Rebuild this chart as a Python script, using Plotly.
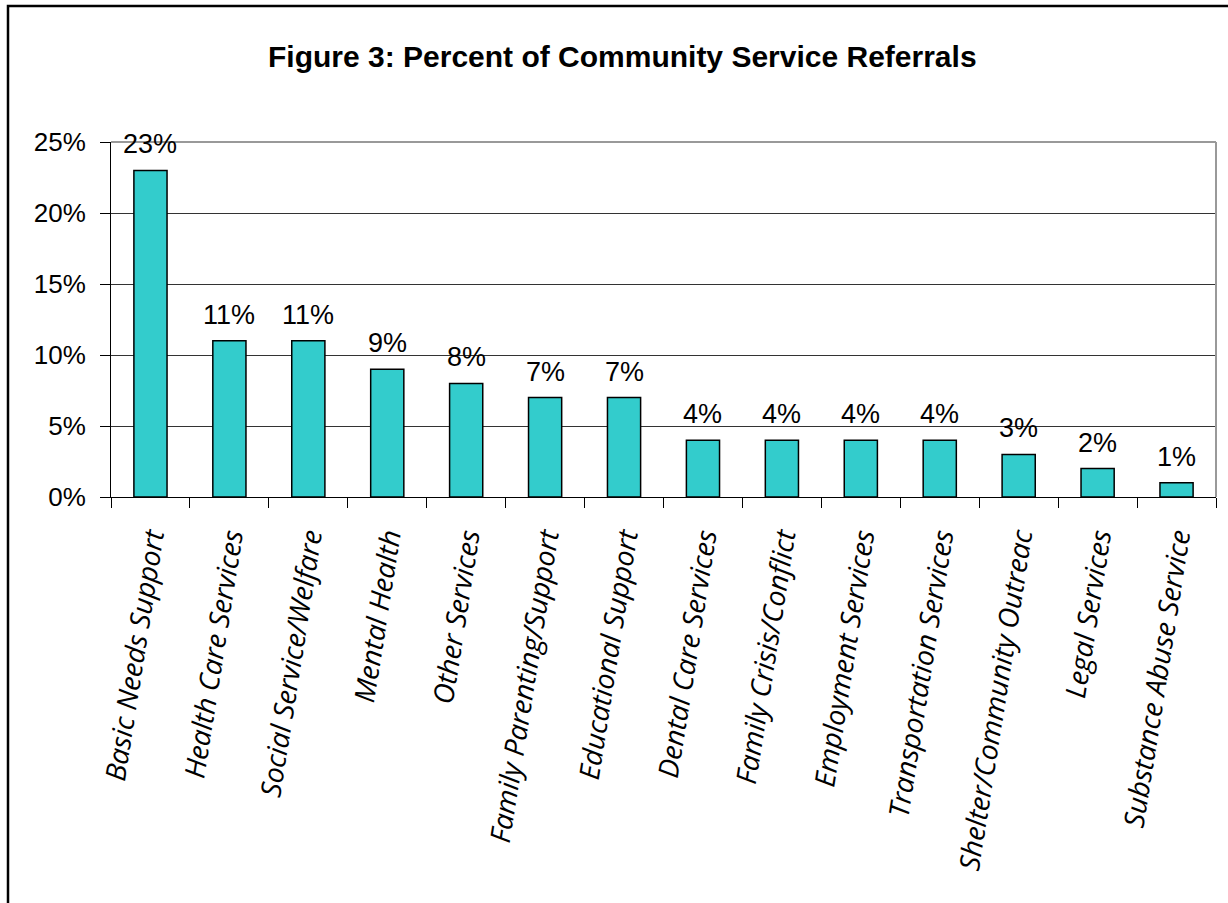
import plotly.graph_objects as go

categories = [
    "Basic Needs Support", "Health Care Services", "Social Service/Welfare",
    "Mental Health", "Other Services", "Family Parenting/Support",
    "Educational Support", "Dental Care Services", "Family Crisis/Conflict",
    "Employment Services", "Transportation Services", "Shelter/Community Outreac",
    "Legal Services", "Substance Abuse Service",
]
values = [23, 11, 11, 9, 8, 7, 7, 4, 4, 4, 4, 3, 2, 1]
y_ticks = [0, 5, 10, 15, 20, 25]
title_text = "Figure 3: Percent of Community Service Referrals"

W, H = 1228, 903
L, R, T, B = 111, 1216, 142, 497  # plot area pixel edges

def px_x(p):
    return (p - L) / (R - L)

def px_y(q):
    return (B - q) / (B - T)

fig = go.Figure()
fig.add_trace(go.Bar(
    x=categories, y=values,
    marker=dict(color="#33CCCC", line=dict(color="black", width=1.5)),
    hoverinfo="x+y",
))

annotations = [
    dict(x=c, y=v, xref="x", yref="y", text=f"{v}%", showarrow=False,
         yanchor="bottom", yshift=9,
         font=dict(family="Liberation Sans, Arial", size=27, color="black"))
    for c, v in zip(categories, values)
]
annotations.append(dict(
    x=px_x(622), y=px_y(56), xref="paper", yref="paper", text=f"<b>{title_text}</b>",
    showarrow=False, xanchor="center", yanchor="middle",
    font=dict(family="Liberation Sans, Arial", size=30, color="black"),
))

shapes = [
    # outer frame
    dict(type="rect", xref="paper", yref="paper",
         x0=px_x(8), x1=px_x(1232), y0=px_y(6), y1=px_y(908),
         line=dict(color="black", width=2.5), fillcolor="rgba(0,0,0,0)", layer="above"),
    # gray plot border top and right
    dict(type="line", xref="paper", yref="paper", x0=0, x1=1, y0=1, y1=1,
         line=dict(color="#999999", width=2), layer="above"),
    dict(type="line", xref="paper", yref="paper", x0=1, x1=1, y0=0, y1=1,
         line=dict(color="#999999", width=2), layer="above"),
]

fig.update_layout(
    width=W, height=H,
    margin=dict(l=L, r=W - R, t=T, b=H - B),
    paper_bgcolor="white", plot_bgcolor="white",
    showlegend=False,
    bargap=0.58,
    annotations=annotations,
    shapes=shapes,
)
fig.update_xaxes(
    type="category",
    showline=True, linecolor="black", linewidth=1,
    ticks="outside", tickson="boundaries", ticklen=10, tickcolor="black",
    tickangle=-81,
    tickfont=dict(family="Open Sans", size=28, color="black", style="italic"),
    showgrid=False,
    ticklabelstandoff=12,
)
fig.update_yaxes(
    range=[0, 25], tickvals=y_ticks, ticktext=[f"{t}%" for t in y_ticks],
    showline=True, linecolor="black", linewidth=1,
    ticks="outside", ticklen=10, tickcolor="black",
    showgrid=True, gridcolor="#333333", gridwidth=1,
    tickfont=dict(family="Liberation Sans, Arial", size=26, color="black"),
    ticklabelstandoff=9,
    zeroline=False,
)

fig.write_html("out.html")
